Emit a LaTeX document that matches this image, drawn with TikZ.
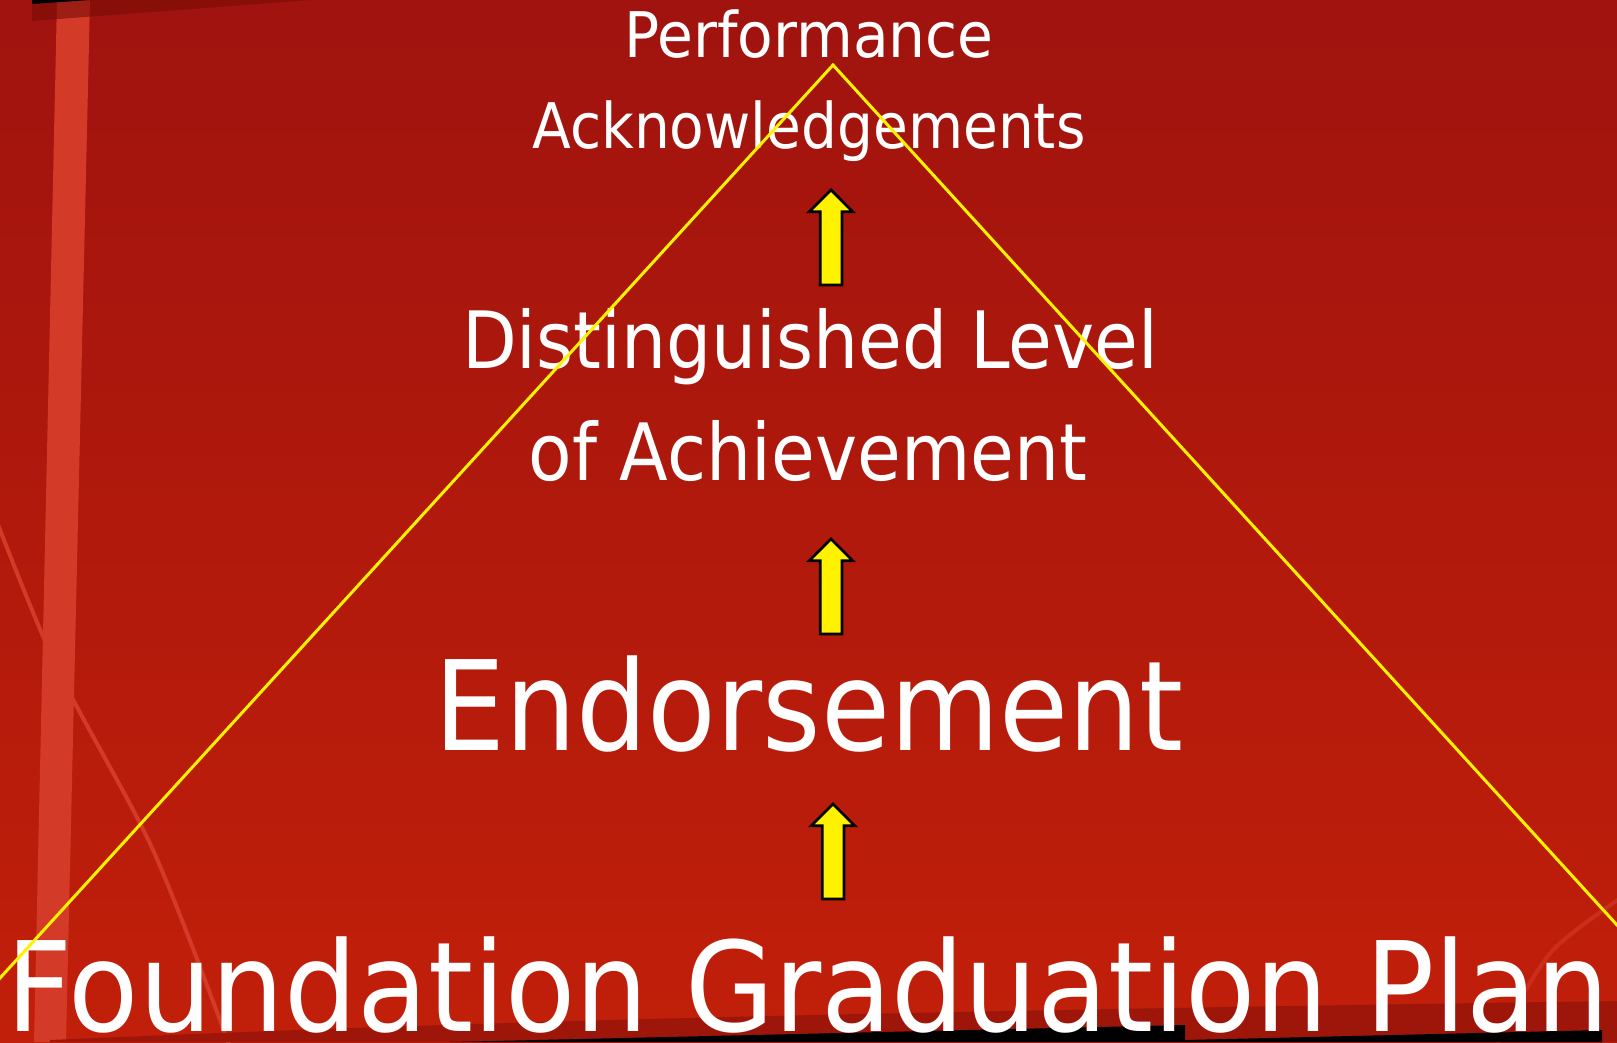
\documentclass[tikz,border=0pt]{standalone}
\usepackage{fontspec}
\setmainfont{DejaVu Sans}[FakeStretch=0.9]
\usepackage{tikz}
\usetikzlibrary{shapes.arrows}
\definecolor{slidetop}{RGB}{160,19,14}
\definecolor{slidebottom}{RGB}{193,31,10}
\definecolor{stripecolor}{RGB}{212,58,40}
\definecolor{bandcolor}{RGB}{158,22,10}
\definecolor{wedgecolor}{RGB}{120,12,8}
\tikzset{
    level text/.style={text=white, inner sep=0pt, anchor=base},
    small level/.style={level text, font=\fontsize{35.8}{43}\selectfont},
    mid level/.style={level text, font=\fontsize{45}{54}\selectfont},
    big level/.style={level text, font=\fontsize{71}{85}\selectfont},
    up arrow/.style={single arrow, shape border rotate=90, draw=black, fill=yellow, line width=0.055cm, inner sep=0.19cm, minimum height=1.9cm, single arrow head extend=0.22cm, anchor=tip},
    pyramid/.style={draw=yellow, line width=0.06cm},
    streak/.style={draw=stripecolor, line width=0.08cm}
}

\begin{document}
\begin{tikzpicture}[x=0.02cm, y=-0.02cm]
    \useasboundingbox (0,0) rectangle (1617,1042);

    % Slide background
    \shade[top color=slidetop, bottom color=slidebottom] (0,0) rectangle (1617,1042);
    \draw[streak] plot[smooth] coordinates {(-5,517) (58,670) (153,850) (230,1047)};
    \draw[streak, opacity=0.6] plot[smooth] coordinates {(1625,895) (1553,950) (1507,1023) (1497,1047)};
    \fill[stripecolor] (57,0) -- (90,0) -- (66,1042) -- (34,1042) -- cycle;
    \fill[wedgecolor, opacity=0.6] (32,0) -- (310,0) -- (32,21) -- cycle;
    \fill[black] (32,0) -- (90,0) -- (32,4) -- cycle;
    \fill[bandcolor] (50,1042) -- (50,1040) .. controls (400,1025) and (700,1014) .. (1617,1001) -- (1617,1042) -- cycle;
    \fill[black] (450,1042) -- (1185,1025) -- (1185,1042) -- cycle;
    \fill[black] (1185,1040) -- (1602,1030) -- (1602,1042) -- (1185,1042) -- cycle;

    % Levels, top to bottom
    \node[small level, transform shape, xscale=1.03] (perf) at (809,57) {Performance};
    \node[small level] (ack) at (809,148) {Acknowledgements};
    \node[mid level] (dist) at (810,368) {Distinguished Level};
    \node[mid level] (achv) at (808,480) {of Achievement};
    \node[big level] (endo) at (809,750) {Endorsement};
    \node[big level, transform shape, xscale=1.024] (found) at (808,1031) {Foundation Graduation Plan};

    % Pyramid outline
    \draw[pyramid] (-10,989) -- (833,65) -- (1627,936);

    % Step arrows
    \node[up arrow] (up1) at (831,188) {};
    \node[up arrow] (up2) at (831,537) {};
    \node[up arrow] (up3) at (833,802) {};
\end{tikzpicture}
\end{document}
